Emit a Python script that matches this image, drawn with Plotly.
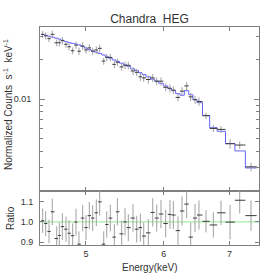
import numpy as np
import plotly.graph_objects as go

# ---------------- data ----------------
energy = [4.518, 4.550, 4.586, 4.621, 4.669, 4.698, 4.731, 4.772, 4.806, 4.847,
          4.885, 4.919, 4.962, 5.001, 5.040, 5.080, 5.123, 5.164, 5.213, 5.250,
          5.294, 5.344, 5.382, 5.437, 5.480, 5.522, 5.583, 5.632, 5.680, 5.725,
          5.787, 5.847, 5.902, 5.961, 6.027, 6.088, 6.136, 6.204, 6.262, 6.331,
          6.391, 6.456, 6.516, 6.624, 6.739, 6.861, 7.008, 7.169, 7.361]

counts = [0.0312, 0.0304, 0.0289, 0.0312, 0.0269, 0.0269, 0.0279, 0.0262, 0.0251, 0.0234,
          0.0258, 0.0232, 0.0254, 0.0237, 0.0246, 0.0232, 0.0237, 0.0244, 0.0195, 0.0208,
          0.0208, 0.0184, 0.0191, 0.0176, 0.0181, 0.0181, 0.0164, 0.0160, 0.0148, 0.0145,
          0.0141, 0.0145, 0.0137, 0.0137, 0.0123, 0.0121, 0.0117, 0.0103, 0.0115, 0.0126,
          0.0104, 0.0099, 0.0096, 0.00746, 0.00597, 0.00587, 0.00456, 0.00446, 0.00304]

model = [0.0312, 0.0307, 0.0302, 0.0297, 0.0292, 0.0287, 0.0281, 0.0275, 0.0270, 0.0266,
         0.0263, 0.0259, 0.0252, 0.0245, 0.0239, 0.0233, 0.0228, 0.0223, 0.0217, 0.0211,
         0.0205, 0.0199, 0.0194, 0.0188, 0.0183, 0.0178, 0.0170, 0.0165, 0.0159, 0.0154,
         0.0148, 0.0142, 0.0137, 0.0132, 0.0126, 0.0120, 0.0116, 0.0110, 0.0107, 0.0116,
         0.0108, 0.0099, 0.0094, 0.00750, 0.00605, 0.00568, 0.00458, 0.00402, 0.00298]

ratio = [1.006, 0.992, 0.953, 1.050, 0.918, 0.933, 0.977, 0.964, 0.944, 0.932,
         0.999, 0.890, 1.019, 0.972, 1.031, 1.019, 1.045, 1.099, 0.890, 0.987,
         1.019, 0.925, 1.050, 0.941, 1.000, 0.972, 1.019, 0.964, 0.972, 0.930,
         0.946, 1.047, 1.019, 1.039, 0.992, 1.037, 1.034, 0.957, 1.054, 1.088,
         0.925, 1.019, 1.034, 1.003, 0.985, 1.045, 0.999, 1.107, 1.031]

ratio_err = [0.060, 0.062, 0.058, 0.065, 0.060, 0.063, 0.066, 0.062, 0.064, 0.061,
             0.066, 0.063, 0.065, 0.062, 0.067, 0.064, 0.066, 0.068, 0.063, 0.065,
             0.066, 0.064, 0.067, 0.065, 0.068, 0.066, 0.068, 0.066, 0.069, 0.067,
             0.068, 0.070, 0.067, 0.070, 0.068, 0.071, 0.069, 0.070, 0.072, 0.070,
             0.071, 0.070, 0.072, 0.055, 0.062, 0.060, 0.085, 0.065, 0.075]

x_ticks = [5, 6, 7]
y_top_ticks = [0.01]
y_top_minor = [0.002, 0.003, 0.004, 0.005, 0.006, 0.007, 0.008, 0.009, 0.02, 0.03]
ratio_ticks = [0.9, 1.0, 1.1]
ratio_ticktext = ["0.9", "1.0", "1.1"]

# ---------------- derived bin edges ----------------
E = np.array(energy)
mid = np.sqrt(E[:-1] * E[1:])
lo = np.concatenate([[E[0] ** 2 / mid[0]], mid])
hi = np.concatenate([mid, [E[-1] ** 2 / mid[-1]]])
xp = hi - E
xm = E - lo
cnt = np.array(counts)
cnt_err = cnt * np.array(ratio_err)

FONT = "Liberation Sans, Arial, sans-serif"
AX = "#808080"
TXT = "#333333"
DARK = "#3a3a3a"
GREY = "#a0a0a0"

fig = go.Figure()

# model step line
fig.add_trace(go.Scatter(
    x=list(lo) + [hi[-1]], y=list(model) + [model[-1]],
    mode="lines", line=dict(shape="hv", color="rgb(100,100,255)", width=1),
    xaxis="x", yaxis="y", showlegend=False, hoverinfo="skip"))

# data crosses (top)
fig.add_trace(go.Scatter(
    x=energy, y=counts, mode="markers",
    marker=dict(size=1, color="rgba(0,0,0,0)"),
    error_x=dict(type="data", symmetric=False, array=xp, arrayminus=xm,
                 color=DARK, thickness=1, width=0),
    error_y=dict(type="data", array=cnt_err, color=GREY, thickness=1, width=0),
    xaxis="x", yaxis="y", showlegend=False, hoverinfo="skip"))

# ratio crosses (bottom)
fig.add_trace(go.Scatter(
    x=energy, y=ratio, mode="markers",
    marker=dict(size=1, color="rgba(0,0,0,0)"),
    error_x=dict(type="data", symmetric=False, array=xp, arrayminus=xm,
                 color=DARK, thickness=1, width=0),
    error_y=dict(type="data", array=ratio_err, color=GREY, thickness=1, width=0),
    xaxis="x2", yaxis="y2", showlegend=False, hoverinfo="skip"))

split = 0.248
xr = [np.log10(4.49), np.log10(7.50)]

common_x = dict(type="log", range=xr, showline=True, linecolor=AX, linewidth=1,
                mirror="allticks", ticks="inside", ticklen=4, tickcolor=AX,
                tickvals=x_ticks, showgrid=False, zeroline=False, automargin=False,
                tickfont=dict(family=FONT, size=9, color=TXT))

fig.update_layout(
    template="none",
    width=273, height=273,
    margin=dict(l=40, r=14, t=27, b=28, autoexpand=False),
    paper_bgcolor="white", plot_bgcolor="white",
    hovermode=False, dragmode=False,
    title=dict(text="Chandra  HEG", x=0.5, xref="paper", y=1 - 19 / 273,
               yanchor="middle", xanchor="center",
               font=dict(family=FONT, size=12, color=TXT)),
    xaxis=dict(common_x, domain=[0, 1], anchor="y", showticklabels=False,
               matches="x2"),
    xaxis2=dict(common_x, domain=[0, 1], anchor="y2", ticktext=["5", "6", "7"]),
    yaxis=dict(type="log", domain=[split, 1], anchor="x",
               range=[np.log10(0.00199), np.log10(0.0355)],
               showline=True, linecolor=AX, linewidth=1, mirror="allticks",
               ticks="inside", ticklen=5, tickcolor=AX,
               tickvals=y_top_ticks, ticktext=["0.01"],
               minor=dict(tickvals=y_top_minor, ticks="inside", ticklen=3,
                          tickcolor=AX, showgrid=False),
               showgrid=False, zeroline=False, ticklabelstandoff=6, automargin=False,
               tickfont=dict(family=FONT, size=9, color=TXT)),
    yaxis2=dict(domain=[0, split], anchor="x2", range=[0.886, 1.153],
                showline=True, linecolor=AX, linewidth=1, mirror="allticks",
                ticks="inside", ticklen=4, tickcolor=AX,
                tickvals=ratio_ticks, ticktext=ratio_ticktext,
                showgrid=False, zeroline=False, ticklabelstandoff=4, automargin=False,
                tickfont=dict(family=FONT, size=9, color=TXT)),
)

# unity line in ratio panel
fig.add_shape(type="line", xref="x2 domain", yref="y2", x0=0, x1=1, y0=1.0, y1=1.0,
              line=dict(color="rgb(140,235,140)", width=1), layer="below")

# axis titles as annotations
fig.add_annotation(text="Normalized Counts  s<sup>-1</sup>  keV<sup>-1</sup>",
                   xref="paper", yref="paper", x=(8 - 40) / 219, y=(245 - 105) / 218,
                   textangle=-90, showarrow=False, xanchor="center", yanchor="middle",
                   font=dict(family=FONT, size=10, color=TXT))
fig.add_annotation(text="Ratio", xref="paper", yref="paper",
                   x=(10 - 40) / 219, y=(245 - 218) / 218,
                   textangle=-90, showarrow=False, xanchor="center", yanchor="middle",
                   font=dict(family=FONT, size=10, color=TXT))
fig.add_annotation(text="Energy(keV)", xref="paper", yref="paper",
                   x=0.5, y=(245 - 267) / 218, showarrow=False,
                   xanchor="center", yanchor="middle",
                   font=dict(family=FONT, size=10, color=TXT))

fig.write_html(
    "out.html",
    config={"displayModeBar": False, "staticPlot": True},
    post_script="document.body.style.margin='0';document.body.style.padding='0';"
                "document.documentElement.style.overflow='hidden';",
)
